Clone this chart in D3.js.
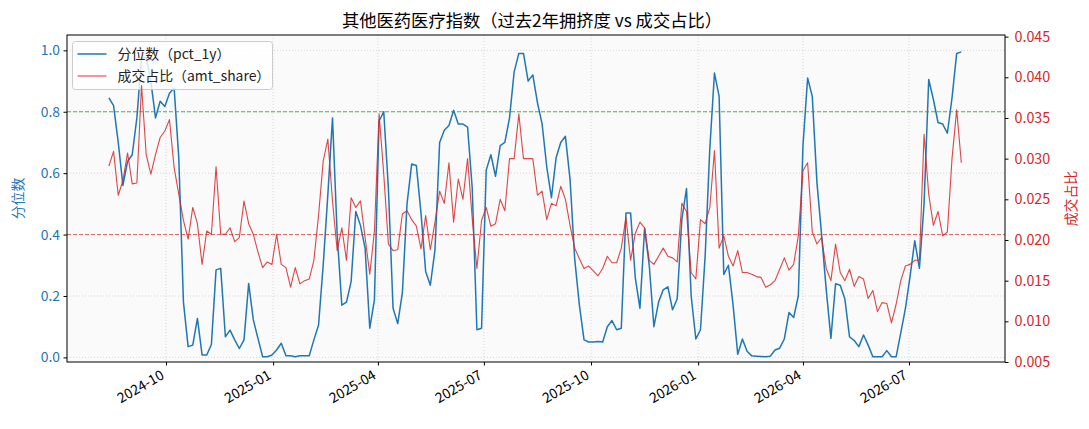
<!DOCTYPE html>
<html>
<head>
<meta charset="utf-8">
<script src="https://cdn.jsdelivr.net/npm/d3@7"></script>
<style>
  body { margin: 0; background: #fff; }
  svg text { font-family: "Noto Sans CJK SC", "DejaVu Sans", sans-serif; }
</style>
</head>
<body>
<script>
// sample dates (every 4 days)
const dates = (
  "2024-08-13 2024-08-17 2024-08-21 2024-08-25 2024-08-29 2024-09-02 2024-09-06 2024-09-10 2024-09-14 2024-09-18 " +
  "2024-09-22 2024-09-26 2024-09-30 2024-10-04 2024-10-08 2024-10-12 2024-10-16 2024-10-20 2024-10-24 2024-10-28 " +
  "2024-11-01 2024-11-05 2024-11-09 2024-11-13 2024-11-17 2024-11-21 2024-11-25 2024-11-29 2024-12-03 2024-12-07 " +
  "2024-12-11 2024-12-15 2024-12-19 2024-12-23 2024-12-27 2024-12-31 2025-01-04 2025-01-08 2025-01-12 2025-01-16 " +
  "2025-01-20 2025-01-24 2025-01-28 2025-02-01 2025-02-05 2025-02-09 2025-02-13 2025-02-17 2025-02-21 2025-02-25 " +
  "2025-03-01 2025-03-05 2025-03-09 2025-03-13 2025-03-17 2025-03-21 2025-03-25 2025-03-29 2025-04-02 2025-04-06 " +
  "2025-04-10 2025-04-14 2025-04-18 2025-04-22 2025-04-26 2025-04-30 2025-05-04 2025-05-08 2025-05-12 2025-05-16 " +
  "2025-05-20 2025-05-24 2025-05-28 2025-06-01 2025-06-05 2025-06-09 2025-06-13 2025-06-17 2025-06-21 2025-06-25 " +
  "2025-06-29 2025-07-03 2025-07-07 2025-07-11 2025-07-15 2025-07-19 2025-07-23 2025-07-27 2025-07-31 2025-08-04 " +
  "2025-08-08 2025-08-12 2025-08-16 2025-08-20 2025-08-24 2025-08-28 2025-09-01 2025-09-05 2025-09-09 2025-09-13 " +
  "2025-09-17 2025-09-21 2025-09-25 2025-09-29 2025-10-03 2025-10-07 2025-10-11 2025-10-15 2025-10-19 2025-10-23 " +
  "2025-10-27 2025-10-31 2025-11-04 2025-11-08 2025-11-12 2025-11-16 2025-11-20 2025-11-24 2025-11-28 2025-12-02 " +
  "2025-12-06 2025-12-10 2025-12-14 2025-12-18 2025-12-22 2025-12-26 2025-12-30 2026-01-03 2026-01-07 2026-01-11 " +
  "2026-01-15 2026-01-19 2026-01-23 2026-01-27 2026-01-31 2026-02-04 2026-02-08 2026-02-12 2026-02-16 2026-02-20 " +
  "2026-02-24 2026-02-28 2026-03-04 2026-03-08 2026-03-12 2026-03-16 2026-03-20 2026-03-24 2026-03-28 2026-04-01 " +
  "2026-04-05 2026-04-09 2026-04-13 2026-04-17 2026-04-21 2026-04-25 2026-04-29 2026-05-03 2026-05-07 2026-05-11 " +
  "2026-05-15 2026-05-19 2026-05-23 2026-05-27 2026-05-31 2026-06-04 2026-06-08 2026-06-12 2026-06-16 2026-06-20 " +
  "2026-06-24 2026-06-28 2026-07-02 2026-07-06 2026-07-10 2026-07-14 2026-07-18 2026-07-22 2026-07-26 2026-07-30 " +
  "2026-08-03 2026-08-07 2026-08-11 2026-08-15"
).split(" ");

// 分位数 (pct_1y)
const pct1y = [
  0.845, 0.82, 0.70, 0.56, 0.638, 0.66, 0.78, 0.975, 0.975, 0.90,
  0.78, 0.834, 0.817, 0.86, 0.877, 0.649, 0.18, 0.035, 0.04, 0.127,
  0.008, 0.008, 0.042, 0.285, 0.29, 0.067, 0.089, 0.057, 0.029, 0.057,
  0.241, 0.122, 0.062, 0.002, 0.002, 0.008, 0.024, 0.046, 0.005, 0.005,
  0.002, 0.005, 0.005, 0.005, 0.057, 0.105, 0.30, 0.53, 0.78, 0.40,
  0.17, 0.18, 0.247, 0.475, 0.43, 0.355, 0.095, 0.187, 0.77, 0.80,
  0.55, 0.16, 0.11, 0.21, 0.50, 0.63, 0.625, 0.47, 0.28, 0.235,
  0.35, 0.70, 0.74, 0.755, 0.805, 0.76, 0.76, 0.75, 0.55, 0.09,
  0.095, 0.61, 0.66, 0.59, 0.69, 0.70, 0.78, 0.93, 0.99, 0.99,
  0.90, 0.92, 0.83, 0.76, 0.62, 0.52, 0.65, 0.70, 0.72, 0.58,
  0.32, 0.17, 0.057, 0.05, 0.05, 0.052, 0.05, 0.10, 0.12, 0.09,
  0.095, 0.47, 0.47, 0.26, 0.16, 0.42, 0.30, 0.10, 0.18, 0.22,
  0.23, 0.155, 0.19, 0.45, 0.55, 0.20, 0.06, 0.09, 0.33, 0.68,
  0.926, 0.85, 0.27, 0.30, 0.17, 0.01, 0.06, 0.02, 0.005, 0.004,
  0.003, 0.002, 0.004, 0.024, 0.03, 0.06, 0.146, 0.13, 0.20, 0.69,
  0.91, 0.85, 0.57, 0.40, 0.22, 0.062, 0.24, 0.235, 0.19, 0.067,
  0.055, 0.035, 0.073, 0.04, 0.002, 0.002, 0.002, 0.022, 0.002, 0.002,
  0.08, 0.16, 0.265, 0.38, 0.29, 0.50, 0.905, 0.84, 0.765, 0.76,
  0.73, 0.845, 0.99, 0.995
];

// 成交占比 (amt_share)
const amtShare = [
  0.0291, 0.0309, 0.0255, 0.0273, 0.0307, 0.0269, 0.0270, 0.0390, 0.0305, 0.0281,
  0.0305, 0.0326, 0.0334, 0.0348, 0.0289, 0.0256, 0.0224, 0.0201, 0.0240, 0.0220,
  0.0170, 0.0211, 0.0207, 0.0290, 0.0207, 0.0207, 0.0215, 0.0198, 0.0203, 0.0248,
  0.0220, 0.0207, 0.0185, 0.0166, 0.0173, 0.0170, 0.0207, 0.0170, 0.0166, 0.0142,
  0.0166, 0.0146, 0.0150, 0.0152, 0.0175, 0.0230, 0.0297, 0.0324, 0.0248, 0.0187,
  0.0215, 0.0175, 0.0252, 0.0240, 0.0248, 0.0203, 0.0158, 0.0211, 0.0355, 0.0281,
  0.0195, 0.0187, 0.0188, 0.0232, 0.0236, 0.0225, 0.0217, 0.0189, 0.0230, 0.0188,
  0.0222, 0.0260, 0.0245, 0.0295, 0.0222, 0.0275, 0.0250, 0.0300, 0.0226, 0.0165,
  0.0224, 0.0240, 0.0217, 0.0220, 0.0250, 0.0236, 0.0300, 0.0300, 0.0355, 0.0300,
  0.0300, 0.0300, 0.0255, 0.0260, 0.0225, 0.0245, 0.0242, 0.0266, 0.0250, 0.0218,
  0.0190, 0.0177, 0.0165, 0.0168, 0.0162, 0.0156, 0.0165, 0.0180, 0.0172, 0.0172,
  0.0190, 0.0228, 0.0175, 0.0208, 0.0222, 0.0215, 0.0175, 0.0170, 0.0180, 0.0190,
  0.0180, 0.0178, 0.0173, 0.0245, 0.0235, 0.0160, 0.0152, 0.0225, 0.0220, 0.0240,
  0.0310, 0.0190, 0.0205, 0.0180, 0.0168, 0.0187, 0.0160, 0.0160, 0.0158, 0.0155,
  0.0154, 0.0142, 0.0145, 0.0150, 0.0164, 0.0178, 0.0163, 0.0170, 0.0205, 0.0285,
  0.0295, 0.0210, 0.0195, 0.0203, 0.0165, 0.0150, 0.0195, 0.0160, 0.0150, 0.0164,
  0.0143, 0.0155, 0.0152, 0.0128, 0.0138, 0.0112, 0.0123, 0.0122, 0.0098, 0.0121,
  0.0150, 0.0168, 0.0170, 0.0175, 0.0175, 0.0330, 0.0256, 0.0218, 0.0235, 0.0205,
  0.0210, 0.0300, 0.0360, 0.0295
];

const leftTicks = [0, 0.2, 0.4, 0.6, 0.8, 1.0];
const rightTicks = [0.005, 0.010, 0.015, 0.020, 0.025, 0.030, 0.035, 0.040, 0.045];
const highLevel = 0.8;   // 高位线
const lowLevel = 0.4;    // 低位线
const legendLabels = ["分位数（pct_1y）", "成交占比（amt_share）"];

let width = 1089;
let height = 429;
let marginTop = 35;
let marginRight = 84;
let marginBottom = 67;
let marginLeft = 67;

let blue = "#1f77b4";
let red = "#d62728";

let parse = d3.utcParse("%Y-%m-%d");
let data = dates.map((d, i) => ({ date: parse(d), pct: pct1y[i], amt: amtShare[i] }));

// scales
let x = d3.scaleUtc()
    .domain([new Date(Date.UTC(2024, 6, 8)), new Date(Date.UTC(2026, 8, 21, 12))])
    .range([marginLeft, width - marginRight]);

let yLeft = d3.scaleLinear()
    .domain([-0.015, 1.05])
    .range([height - marginBottom, marginTop]);

let yRight = d3.scaleLinear()
    .domain([0.005, 0.0452])
    .range([height - marginBottom, marginTop]);

let svg = d3.select("body").append("svg")
    .attr("width", width)
    .attr("height", height)
    .attr("viewBox", [0, 0, width, height]);

// plot background
svg.append("rect")
    .attr("x", marginLeft)
    .attr("y", marginTop)
    .attr("width", width - marginLeft - marginRight)
    .attr("height", height - marginTop - marginBottom)
    .attr("fill", "#fafafa");

let xTicks = x.ticks(d3.utcMonth.every(3));

// grid
svg.append("g")
    .selectAll("line")
    .data(xTicks)
    .join("line")
    .attr("x1", d => x(d)).attr("x2", d => x(d))
    .attr("y1", marginTop).attr("y2", height - marginBottom)
    .attr("stroke", "#b0b0b0")
    .attr("stroke-opacity", 0.6)
    .attr("stroke-width", 0.8)
    .attr("stroke-dasharray", "1,2");

svg.append("g")
    .selectAll("line")
    .data(leftTicks)
    .join("line")
    .attr("x1", marginLeft).attr("x2", width - marginRight)
    .attr("y1", d => yLeft(d)).attr("y2", d => yLeft(d))
    .attr("stroke", "#b0b0b0")
    .attr("stroke-opacity", 0.6)
    .attr("stroke-width", 0.8)
    .attr("stroke-dasharray", "1,2");

// blue line (left axis)
let linePct = d3.line()
    .x(d => x(d.date))
    .y(d => yLeft(d.pct));

svg.append("path")
    .datum(data)
    .attr("fill", "none")
    .attr("stroke", blue)
    .attr("stroke-width", 1.5)
    .attr("stroke-linejoin", "round")
    .attr("d", linePct);

// reference lines
svg.append("line")
    .attr("x1", marginLeft).attr("x2", width - marginRight)
    .attr("y1", yLeft(highLevel)).attr("y2", yLeft(highLevel))
    .attr("stroke", "#2ca02c")
    .attr("stroke-opacity", 0.8)
    .attr("stroke-width", 1)
    .attr("stroke-dasharray", "4,2");

svg.append("line")
    .attr("x1", marginLeft).attr("x2", width - marginRight)
    .attr("y1", yLeft(lowLevel)).attr("y2", yLeft(lowLevel))
    .attr("stroke", red)
    .attr("stroke-opacity", 0.7)
    .attr("stroke-width", 1)
    .attr("stroke-dasharray", "4,2");

// legend (drawn under the twin axis line, like matplotlib)
let legend = svg.append("g").attr("transform", "translate(72.5,41.5)");
legend.append("rect")
    .attr("width", 200)
    .attr("height", 48)
    .attr("rx", 3)
    .attr("fill", "#fff")
    .attr("fill-opacity", 0.8)
    .attr("stroke", "#cccccc");

legendLabels.forEach((label, i) => {
    let ly = 12.5 + i * 22;
    legend.append("line")
        .attr("x1", 5).attr("x2", 34)
        .attr("y1", ly).attr("y2", ly)
        .attr("stroke", i === 0 ? blue : red)
        .attr("stroke-opacity", i === 0 ? 1 : 0.85)
        .attr("stroke-width", i === 0 ? 1.5 : 1.1);
    legend.append("text")
        .attr("x", 45)
        .attr("y", ly)
        .attr("dy", "0.35em")
        .style("font-size", "13.9px")
        .attr("fill", "#222")
        .text(label);
});

// red line (right axis)
let lineAmt = d3.line()
    .x(d => x(d.date))
    .y(d => yRight(d.amt));

svg.append("path")
    .datum(data)
    .attr("fill", "none")
    .attr("stroke", red)
    .attr("stroke-opacity", 0.85)
    .attr("stroke-width", 1.1)
    .attr("stroke-linejoin", "round")
    .attr("d", lineAmt);

// frame
svg.append("rect")
    .attr("x", marginLeft)
    .attr("y", marginTop)
    .attr("width", width - marginLeft - marginRight)
    .attr("height", height - marginTop - marginBottom)
    .attr("fill", "none")
    .attr("stroke", "#000")
    .attr("stroke-width", 1);

// x axis
svg.append("g")
    .attr("transform", `translate(0,${height - marginBottom})`)
    .call(d3.axisBottom(x).tickValues(xTicks).tickFormat(d3.utcFormat("%Y-%m"))
        .tickSizeInner(3.5).tickSizeOuter(0).tickPadding(0))
    .call(g => g.select(".domain").remove())
    .call(g => g.selectAll(".tick text")
        .attr("y", 0)
        .attr("dy", 0)
        .attr("text-anchor", "end")
        .attr("transform", "translate(-1.4,16) rotate(-30)")
        .attr("fill", "#000")
        .style("font-size", "13.9px"));

// left axis
svg.append("g")
    .attr("transform", `translate(${marginLeft},0)`)
    .call(d3.axisLeft(yLeft).tickValues(leftTicks).tickFormat(d3.format(".1f"))
        .tickSizeInner(3.5).tickSizeOuter(0).tickPadding(3.5))
    .call(g => g.select(".domain").remove())
    .call(g => g.selectAll(".tick text")
        .attr("fill", blue)
        .style("font-size", "13.9px"));

// right axis
svg.append("g")
    .attr("transform", `translate(${width - marginRight},0)`)
    .call(d3.axisRight(yRight).tickValues(rightTicks).tickFormat(d3.format(".3f"))
        .tickSizeInner(3.5).tickSizeOuter(0).tickPadding(6))
    .call(g => g.select(".domain").remove())
    .call(g => g.selectAll(".tick text")
        .attr("fill", red)
        .style("font-size", "14.3px"));

// axis labels
let midY = (marginTop + height - marginBottom) / 2;
svg.append("text")
    .attr("transform", `translate(18,${midY}) rotate(-90)`)
    .attr("text-anchor", "middle")
    .attr("dy", "0.35em")
    .attr("fill", blue)
    .style("font-size", "13.9px")
    .text("分位数");

svg.append("text")
    .attr("transform", `translate(1071,${midY}) rotate(-90)`)
    .attr("text-anchor", "middle")
    .attr("dy", "0.35em")
    .attr("fill", red)
    .style("font-size", "13.9px")
    .text("成交占比");

// title
svg.append("text")
    .attr("x", (marginLeft + width - marginRight) / 2 - 4)
    .attr("y", 20.5)
    .attr("dy", "0.35em")
    .attr("text-anchor", "middle")
    .attr("fill", "#000")
    .style("font-size", "17.3px")
    .text("其他医药医疗指数（过去2年拥挤度 vs 成交占比）");
</script>
</body>
</html>
